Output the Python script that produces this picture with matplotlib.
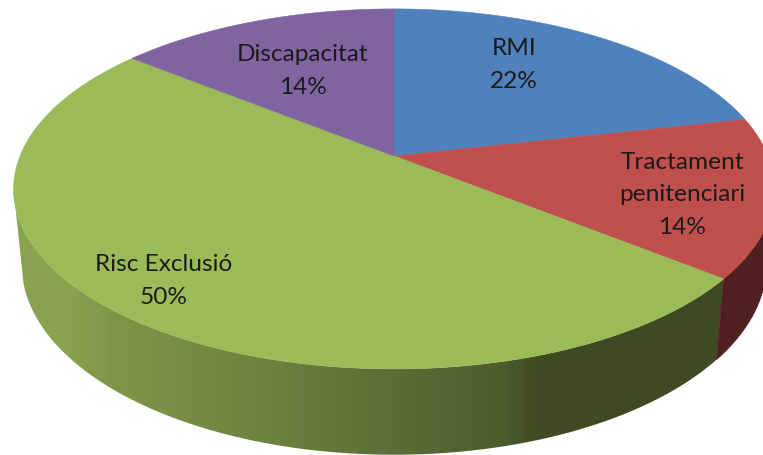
import numpy as np
from matplotlib import pyplot as plt
from matplotlib.colors import LinearSegmentedColormap
from matplotlib.patches import Polygon

labels = ['RMI', 'Tractament\npenitenciari', 'Risc Exclusió', 'Discapacitat']
shares = [21.5, 14.25, 50, 14.25]
colors = ['#4f81bd', '#c0504d', '#9bbb59', '#8064a2']
label_pos = [(514, 65), (682, 195), (164, 281), (303, 71)]

# perspective of the pie, top and bottom disc, in pixels
P = 0.183
TOP = (394, 157, 374, 174)
BOTTOM = (394, 231, 366, 183.6)

side_x = [0, 20, 70, 110, 250, 400, 500, 545, 763]
side_col = ['#8aa350', '#8aa350', '#88a24e', '#7f9648', '#6f8540', '#5a6d35', '#4d5e2d', '#3f4a22', '#3f4a22']
red_side = '#4f201f'


def rim(disc, a0, a1, n=200):
    # angles in degrees, clockwise from the top
    cx, cy, a, k = disc
    t = np.radians(np.linspace(a0, a1, n))
    u, v = np.sin(t), np.cos(t)
    w = 1 + P * v
    return np.column_stack([cx + a * u / w, cy - k * v / w])


fig = plt.figure(figsize=(7.63, 4.56), dpi=100)
ax = fig.add_axes([0, 0, 1, 1])
ax.set_xlim(0, 763)
ax.set_ylim(456, 0)
ax.axis('off')

edges = np.cumsum([0] + shares) * 3.6

# side of the red slice
pts = np.vstack([rim(TOP, 100, edges[2]), rim(BOTTOM, edges[2], 100)])
ax.add_patch(Polygon(pts, closed=True, fc=red_side, ec=red_side, lw=0.5))

# side of the green slice with the horizontal gradient
pts = np.vstack([rim(TOP, edges[2], 259.5), rim(BOTTOM, 254, edges[2])])
clip = Polygon(pts, closed=True, fc='none', ec='none', transform=ax.transData)
ax.add_patch(clip)
cmap = LinearSegmentedColormap.from_list('side', list(zip(np.array(side_x) / 763, side_col)))
img = ax.imshow(np.linspace(0, 1, 763).reshape(1, -1), cmap=cmap, extent=(0, 763, 456, 0),
                aspect='auto', interpolation='bilinear')
img.set_clip_path(clip)
ax.set_xlim(0, 763)
ax.set_ylim(456, 0)

# top of the pie
for i in range(len(shares)):
    pts = np.vstack([[TOP[0], TOP[1]], rim(TOP, edges[i], edges[i + 1])])
    ax.add_patch(Polygon(pts, closed=True, fc=colors[i], ec=colors[i], lw=0.4))

for i in range(len(shares)):
    txt = '{}\n{:.0f}%'.format(labels[i], shares[i])
    ax.text(label_pos[i][0], label_pos[i][1], txt, ha='center', va='center', family='Lato',
            fontsize=17.6, linespacing=1.65, color='#1a1a1a')

fig.savefig('out.png', dpi=100)
